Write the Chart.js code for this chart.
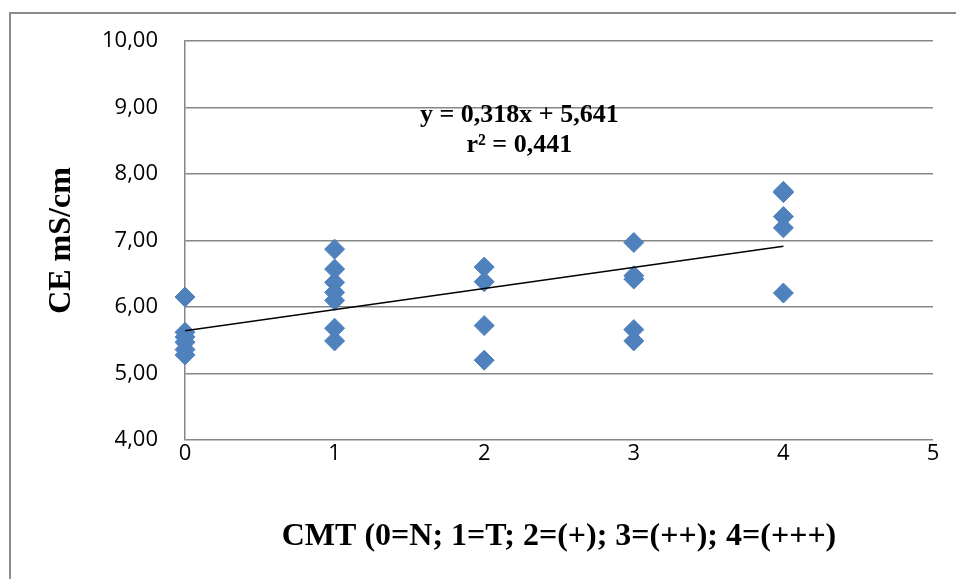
<!DOCTYPE html>
<html>
<head>
<meta charset="utf-8">
<script src="https://cdn.jsdelivr.net/npm/chart.js@4.4.1/dist/chart.umd.min.js"></script>
<style>
  html, body { margin: 0; padding: 0; background: #fff; }
  #wrap { width: 956px; height: 579px; position: relative; }
</style>
</head>
<body>
<div id="wrap"><canvas id="c" width="956" height="579"></canvas></div>
<script>
// CMT grades on the x axis, CE values (mS/cm) measured for each grade
const cmtGrades = [0, 1, 2, 3, 4];
const ceGrade0 = [6.15, 5.62, 5.55, 5.47, 5.36, 5.28];
const ceGrade1 = [6.87, 6.57, 6.37, 6.22, 6.10, 5.68, 5.49];
const ceGrade2 = [6.60, 6.38, 5.72, 5.20];
const ceGrade3 = [6.97, 6.47, 6.42, 5.66, 5.49];
const ceGrade4 = [7.74, 7.72, 7.36, 7.19, 6.21];

// linear trend line end points (y = 0,318x + 5,641)
const trendX = [0, 4];
const trendY = [5.641, 6.913];
const equationLines = ['y = 0,318x + 5,641', 'r² = 0,441'];

const groups = [ceGrade0, ceGrade1, ceGrade2, ceGrade3, ceGrade4];
const points = [];
groups.forEach((vals, i) => {
    vals.forEach(v => points.push({ x: cmtGrades[i], y: v }));
});

const gridColor = '#868686';
const serif = '"Liberation Serif", "Times New Roman", serif';
const sans = '"Open Sans", "Noto Sans", sans-serif';

// outer frame + regression equation
const extras = {
    id: 'extras',
    afterDraw(chart) {
        const ctx = chart.ctx;
        const area = chart.chartArea;
        ctx.save();
        ctx.strokeStyle = '#8c8c8c';
        ctx.lineWidth = 2;
        ctx.beginPath();
        ctx.moveTo(10, 579);
        ctx.lineTo(10, 13);
        ctx.lineTo(956, 13);
        ctx.stroke();

        ctx.fillStyle = '#000';
        ctx.font = 'bold 26px ' + serif;
        ctx.textAlign = 'center';
        ctx.textBaseline = 'middle';
        const cx = area.left + (area.right - area.left) * 0.447;
        ctx.fillText(equationLines[0], cx, 115);
        ctx.fillText(equationLines[1], cx, 145);
        ctx.restore();
    }
};

new Chart(document.getElementById('c'), {
    type: 'scatter',
    data: {
        datasets: [{
            label: 'CE',
            data: points,
            pointStyle: 'rectRot',
            pointRadius: 10,
            pointHoverRadius: 10,
            backgroundColor: '#4f81bd',
            borderColor: '#4f81bd',
            borderWidth: 1,
            clip: false,
            order: 1
        }, {
            label: 'Tendance',
            type: 'line',
            data: trendX.map((x, i) => ({ x: x, y: trendY[i] })),
            borderColor: '#000',
            borderWidth: 1.5,
            pointRadius: 0,
            fill: false,
            order: 0
        }]
    },
    options: {
        responsive: false,
        animation: false,
        layout: { padding: { left: 0, right: 23, top: 41, bottom: 0 } },
        plugins: {
            legend: { display: false },
            tooltip: { enabled: false }
        },
        scales: {
            x: {
                type: 'linear',
                min: 0,
                max: 5,
                ticks: {
                    stepSize: 1,
                    color: '#000',
                    padding: 1,
                    font: { family: sans, size: 22 }
                },
                grid: { display: false, drawTicks: false },
                border: { display: false },
                title: {
                    display: true,
                    text: 'CMT (0=N; 1=T; 2=(+); 3=(++); 4=(+++)',
                    color: '#000',
                    font: { family: serif, size: 32, weight: 'bold' },
                    padding: { top: 23, bottom: 23 }
                },
                afterFit(scale) { scale.height = 139; }
            },
            y: {
                min: 4,
                max: 10,
                ticks: {
                    stepSize: 1,
                    color: '#000',
                    padding: 27,
                    font: { family: sans, size: 22 },
                    callback: v => v.toFixed(2).replace('.', ',')
                },
                grid: { color: gridColor, lineWidth: 1.5, drawTicks: false },
                border: { display: true, color: gridColor, width: 1.5 },
                title: {
                    display: true,
                    text: 'CE mS/cm',
                    color: '#000',
                    font: { family: serif, size: 32, weight: 'bold' },
                    padding: { top: 43, bottom: 43 }
                },
                afterFit(scale) { scale.width = 185; }
            }
        }
    },
    plugins: [extras]
});
</script>
</body>
</html>
